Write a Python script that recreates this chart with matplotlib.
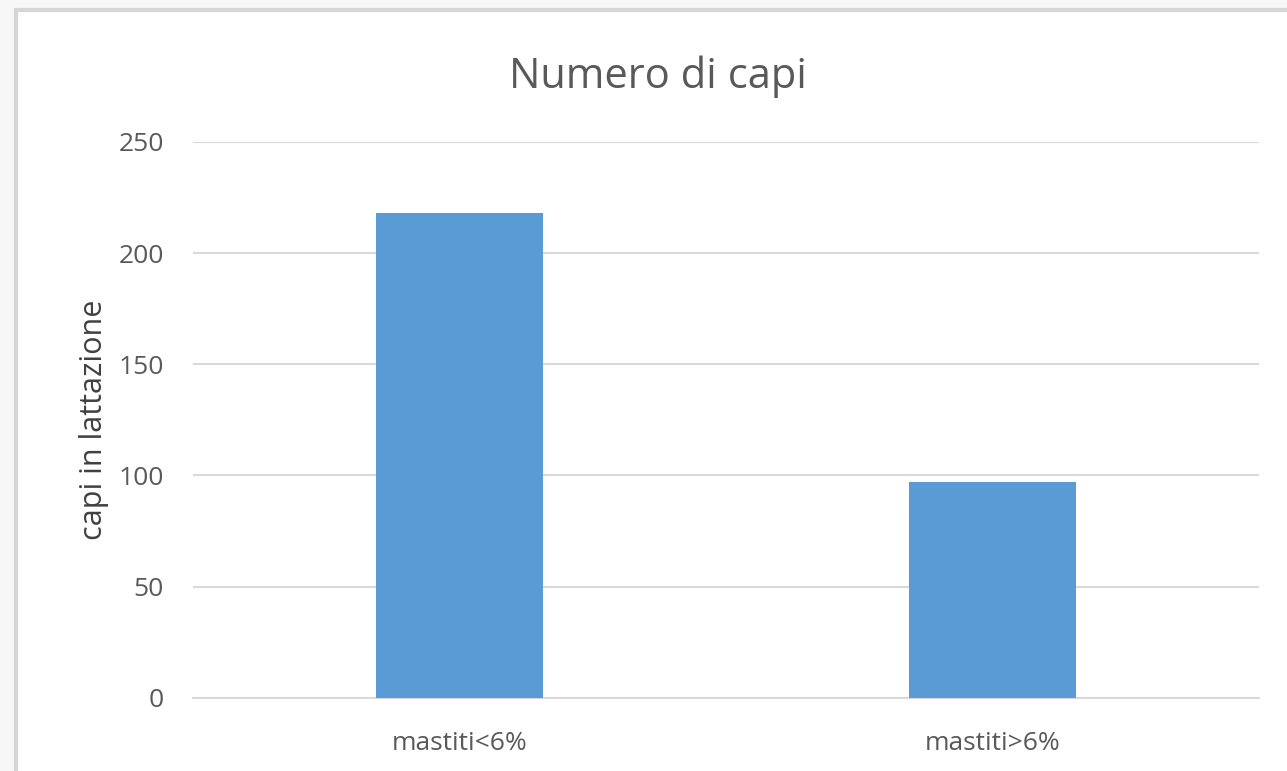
import matplotlib
matplotlib.use("Agg")
import matplotlib.pyplot as plt
from matplotlib.patches import Rectangle

categories = ["mastiti<6%", "mastiti>6%"]
values = [218, 97]
yticks = [0, 50, 100, 150, 200, 250]
title = "Numero di capi"
ylabel = "capi in lattazione"

plt.rcParams['font.family'] = ['Open Sans', 'DejaVu Sans']

W, H = 1287, 771
fig = plt.figure(figsize=(W/100, H/100), dpi=100)
fig.patch.set_facecolor('#f7f7f7')
# chart area with border
fig.patches.append(Rectangle((16/W, -0.05), 1.1, 1 - 10/H + 0.05, transform=fig.transFigure,
                             facecolor='white', edgecolor='#d6d6d6', linewidth=3, zorder=-10))

ax = fig.add_axes([193/W, 1 - 697.7/H, (1259-193)/W, (697.7-142)/H])
ax.set_zorder(1)
ax.set_facecolor('none')
x = list(range(len(categories)))
ax.bar(x, values, width=0.314, color='#5b9bd5', zorder=3)
ax.set_xlim(-0.5, 1.5)
ax.set_ylim(0, 250)
ax.set_yticks(yticks)
ax.set_xticks(x)
ax.set_xticklabels(categories)
ax.yaxis.grid(True, color='#d9d9d9', linewidth=1.5, zorder=0)
ax.set_axisbelow(True)
for s in ['top', 'right', 'left']:
    ax.spines[s].set_visible(False)
ax.spines['bottom'].set_color('#d9d9d9')
ax.spines['bottom'].set_linewidth(1.5)
ax.tick_params(axis='y', length=0, pad=21, labelsize=19, labelcolor='#595959')
ax.tick_params(axis='x', length=0, pad=24, labelsize=19, labelcolor='#595959')
ax.set_ylabel(ylabel, fontsize=22, color='#404040', labelpad=7)
fig.text(658/W, 1 - 77/H, title, ha='center', va='center', fontsize=30, color='#595959')

fig.savefig('out.png', dpi=100, facecolor=fig.get_facecolor())
